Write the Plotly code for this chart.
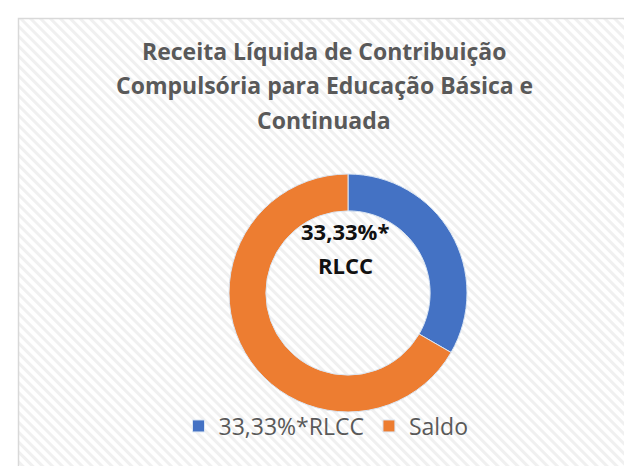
import base64
import plotly.graph_objects as go

labels = ["33,33%*RLCC", "Saldo"]
values = [33.33, 66.67]
colors = ["#4472C4", "#ED7D31"]
title_lines = ["Receita Líquida de Contribuição", "Compulsória para Educação Básica e", "Continuada"]
center_lines = ["33,33%*", "RLCC"]

W, H = 632, 466
FONT = "Open Sans"

svg = f'''<svg xmlns="http://www.w3.org/2000/svg" width="{W}" height="{H}">
<defs><pattern id="p" width="7" height="7" patternUnits="userSpaceOnUse" patternTransform="rotate(-45)">
<rect width="7" height="7" fill="#ffffff"/><rect width="3" height="7" fill="#f0f0f0"/></pattern></defs>
<rect x="0" y="0" width="{W}" height="{H}" fill="url(#p)"/></svg>'''
src = "data:image/svg+xml;base64," + base64.b64encode(svg.encode()).decode()

cx, cy, r = 340, 285, 119
fig = go.Figure(go.Pie(
    labels=labels, values=values, hole=0.69, sort=False, direction="clockwise", rotation=0,
    marker=dict(colors=colors, line=dict(color="#dbe6f3", width=1)),
    textinfo="none", hoverinfo="label+percent",
    domain=dict(x=[(cx - r) / W, (cx + r) / W], y=[1 - (cy + r) / H, 1 - (cy - r) / H]),
))

annotations = []
for i, t in enumerate(title_lines):
    annotations.append(dict(text=f"<b>{t}</b>", x=316 / W, y=1 - (43 + 34.5 * i) / H, xref="paper", yref="paper",
                            showarrow=False, xanchor="center", yanchor="middle",
                            font=dict(family=FONT, size=23, color="#595959")))
for i, t in enumerate(center_lines):
    annotations.append(dict(text=f"<b>{t}</b>", x=337 / W, y=1 - (223 + 34 * i) / H, xref="paper", yref="paper",
                            showarrow=False, xanchor="center", yanchor="middle",
                            font=dict(family=FONT, size=22, color="#111111")))

fig.update_layout(
    width=W, height=H, margin=dict(l=0, r=0, t=0, b=0),
    paper_bgcolor="white",
    images=[dict(source=src, xref="paper", yref="paper", x=10 / W, y=1 - 10 / H, sizex=1, sizey=1,
                 xanchor="left", yanchor="top", sizing="stretch", layer="below")],
    shapes=[dict(type="rect", xref="paper", yref="paper", x0=10.5 / W, y0=-0.1, x1=1.1, y1=1 - 10.5 / H,
                 line=dict(color="#d9d9d9", width=1.5), fillcolor="rgba(0,0,0,0)")],
    annotations=annotations,
    showlegend=True,
    legend=dict(orientation="h", x=318 / W, y=1 - 418 / H, xanchor="center", yanchor="middle",
                font=dict(family=FONT, size=23, color="#595959"), bgcolor="rgba(0,0,0,0)",
                itemwidth=30),
)
fig.write_html("out.html")
